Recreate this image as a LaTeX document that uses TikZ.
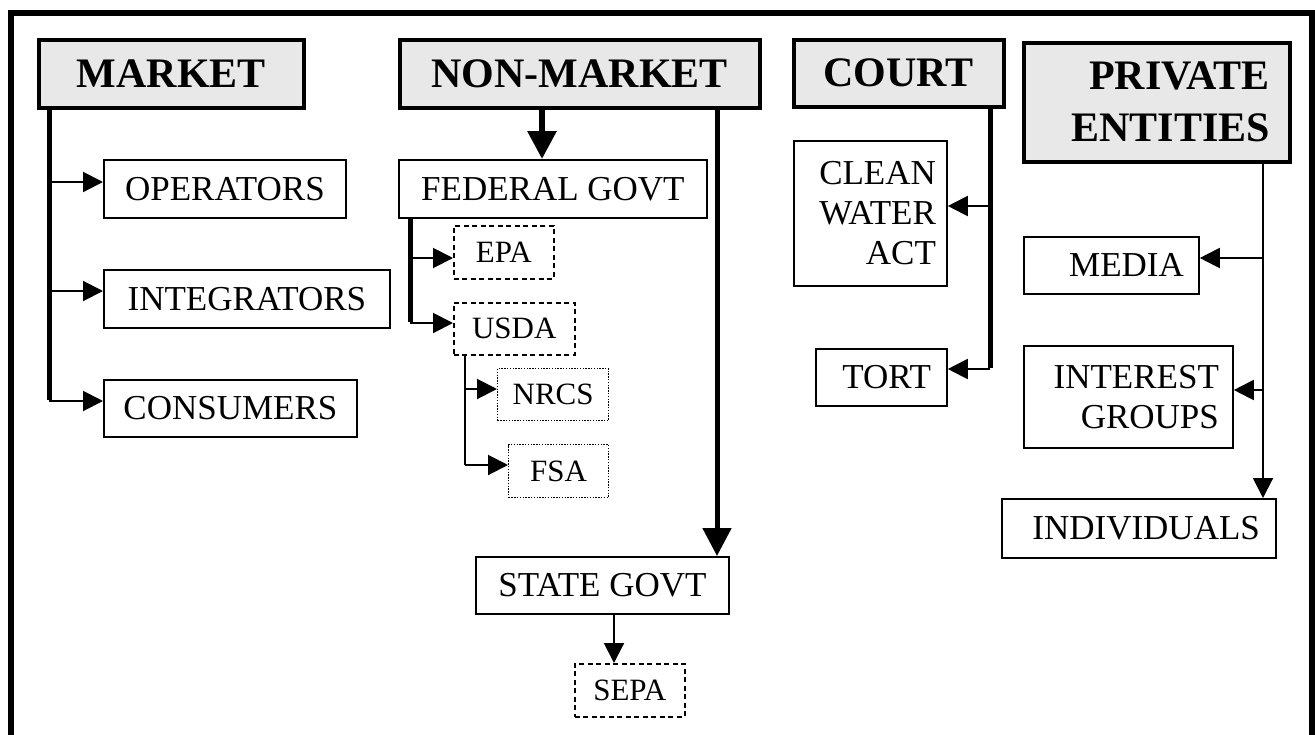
\documentclass[tikz,border=0pt]{standalone}
\usepackage{fontspec}
\setmainfont{Liberation Serif}
\usetikzlibrary{arrows.meta}
\definecolor{hdrgray}{RGB}{232,232,232}
\begin{document}
\begin{tikzpicture}[x=1pt,y=-1pt,
  hdr/.style={draw,line width=3.5pt,fill=hdrgray,inner sep=0pt,anchor=north west,font=\fontsize{42}{52}\selectfont\bfseries},
  bx/.style={draw,line width=1.8pt,inner sep=0pt,anchor=north west,font=\fontsize{35}{40}\selectfont},
  sbx/.style={draw,line width=1.5pt,inner sep=0pt,anchor=north west,font=\fontsize{31}{34}\selectfont},
  dsh/.style={dash pattern=on 5pt off 3.5pt},
  dtt/.style={line width=1.3pt,dash pattern=on 1.4pt off 1.4pt},
  cline/.style={line width=2pt},
  thk/.style={line width=5pt},
  arr/.style={-{Triangle[length=20pt,width=20pt]}},
  bigarr/.style={-{Triangle[length=28pt,width=28pt]}},
]
\useasboundingbox (0,0) rectangle (1315,734);
% outer frame (open at bottom)
\draw[line width=6pt] (10.5,745) -- (10.5,12.5) -- (1311.5,12.5) -- (1311.5,745);

% headers
\node[hdr,minimum width=265pt,minimum height=68pt] (market) at (37,38) {MARKET};
\node[hdr,minimum width=360pt,minimum height=68pt] (nonmarket) at (398,38) {NON-MARKET};
\node[hdr,minimum width=210pt,minimum height=67pt] (court) at (792,38) {COURT};
\node[hdr,minimum width=266pt,minimum height=119pt,text width=226pt,inner xsep=20pt,align=right] (private) at (1022,41) {PRIVATE\\ENTITIES};

% market column
\node[bx,minimum width=242pt,minimum height=58pt] (ops) at (103,159) {OPERATORS};
\node[bx,minimum width=286pt,minimum height=58pt] (integ) at (103,269) {INTEGRATORS};
\node[bx,minimum width=253pt,minimum height=57pt] (cons) at (103,379) {CONSUMERS};

% non-market column
\node[bx,minimum width=308pt,minimum height=58pt] (fed) at (398,159) {FEDERAL GOVT};
\node[sbx,dsh,minimum width=100pt,minimum height=53pt] (epa) at (453,225) {EPA};
\node[sbx,dsh,minimum width=121pt,minimum height=52pt] (usda) at (453,302) {USDA};
\node[sbx,dtt,minimum width=111pt,minimum height=52pt] (nrcs) at (497,368) {NRCS};
\node[sbx,dtt,minimum width=100pt,minimum height=53pt] (fsa) at (508,444) {FSA};
\node[bx,minimum width=253pt,minimum height=57pt] (state) at (475,556) {STATE GOVT};
\node[sbx,dsh,minimum width=110pt,minimum height=53pt] (sepa) at (574,663) {SEPA};

% court column
\node[bx,minimum width=153pt,minimum height=145pt,text width=131pt,inner xsep=11pt,align=right] (cwa) at (793,140) {CLEAN\\WATER\\ACT};
\node[bx,minimum width=131pt,minimum height=57pt,text width=99pt,inner xsep=16pt,align=right] (tort) at (815,348) {TORT};

% private column
\node[bx,minimum width=175pt,minimum height=57pt,text width=145pt,inner xsep=15pt,align=right] (media) at (1023,236) {MEDIA};
\node[bx,minimum width=209pt,minimum height=102pt,text width=181pt,inner xsep=14pt,align=right] (interest) at (1023,345) {INTEREST\\GROUPS};
\node[bx,minimum width=274pt,minimum height=59pt,text width=242pt,inner xsep=16pt,align=right] (indiv) at (1001,498) {INDIVIDUALS};

% connector coordinates
\coordinate (m0) at (49,106);
\coordinate (m1) at (49,182);
\coordinate (m2) at (49,291);
\coordinate (m3) at (49,401);
\coordinate (f0) at (410,217);
\coordinate (f1) at (410,258);
\coordinate (f2) at (410,323);
\coordinate (n1) at (542,106);
\coordinate (n2) at (717,106);
\coordinate (u0) at (465,354);
\coordinate (u1) at (465,389);
\coordinate (u2) at (465,465);
\coordinate (s0) at (614,613);
\coordinate (c0) at (990,105);
\coordinate (c1) at (990,206);
\coordinate (c2) at (990,369);
\coordinate (p0) at (1263,160);
\coordinate (p1) at (1263,258);
\coordinate (p2) at (1263,390);

% market connectors
\draw[thk] (m0) -- ([yshift=1pt]m3);
\draw[cline,arr] (m1) -- (m1 -| ops.west);
\draw[cline,arr] (m2) -- (m2 -| integ.west);
\draw[cline,arr] (m3) -- (m3 -| cons.west);

% non-market connectors
\draw[line width=6pt,bigarr] (n1) -- (n1 |- fed.north);
\draw[line width=5pt,bigarr] (n2) -- (n2 |- state.north);
\draw[thk] (f0) -- ([yshift=1pt]f2);
\draw[cline,arr] (f1) -- (f1 -| epa.west);
\draw[cline,arr] (f2) -- (f2 -| usda.west);
\draw[cline] (u0) -- (u2);
\draw[cline,arr] (u1) -- (u1 -| nrcs.west);
\draw[cline,arr] (u2) -- (u2 -| fsa.west);
\draw[cline,arr] (s0) -- (s0 |- sepa.north);

% court connectors
\draw[thk] (c0) -- ([yshift=1pt]c2);
\draw[cline,arr] (c1) -- (c1 -| cwa.east);
\draw[cline,arr] (c2) -- (c2 -| tort.east);

% private connectors
\draw[cline,arr] (p0) -- (p0 |- indiv.north);
\draw[cline,arr] (p1) -- (p1 -| media.east);
\draw[cline,arr] (p2) -- (p2 -| interest.east);
\end{tikzpicture}
\end{document}
